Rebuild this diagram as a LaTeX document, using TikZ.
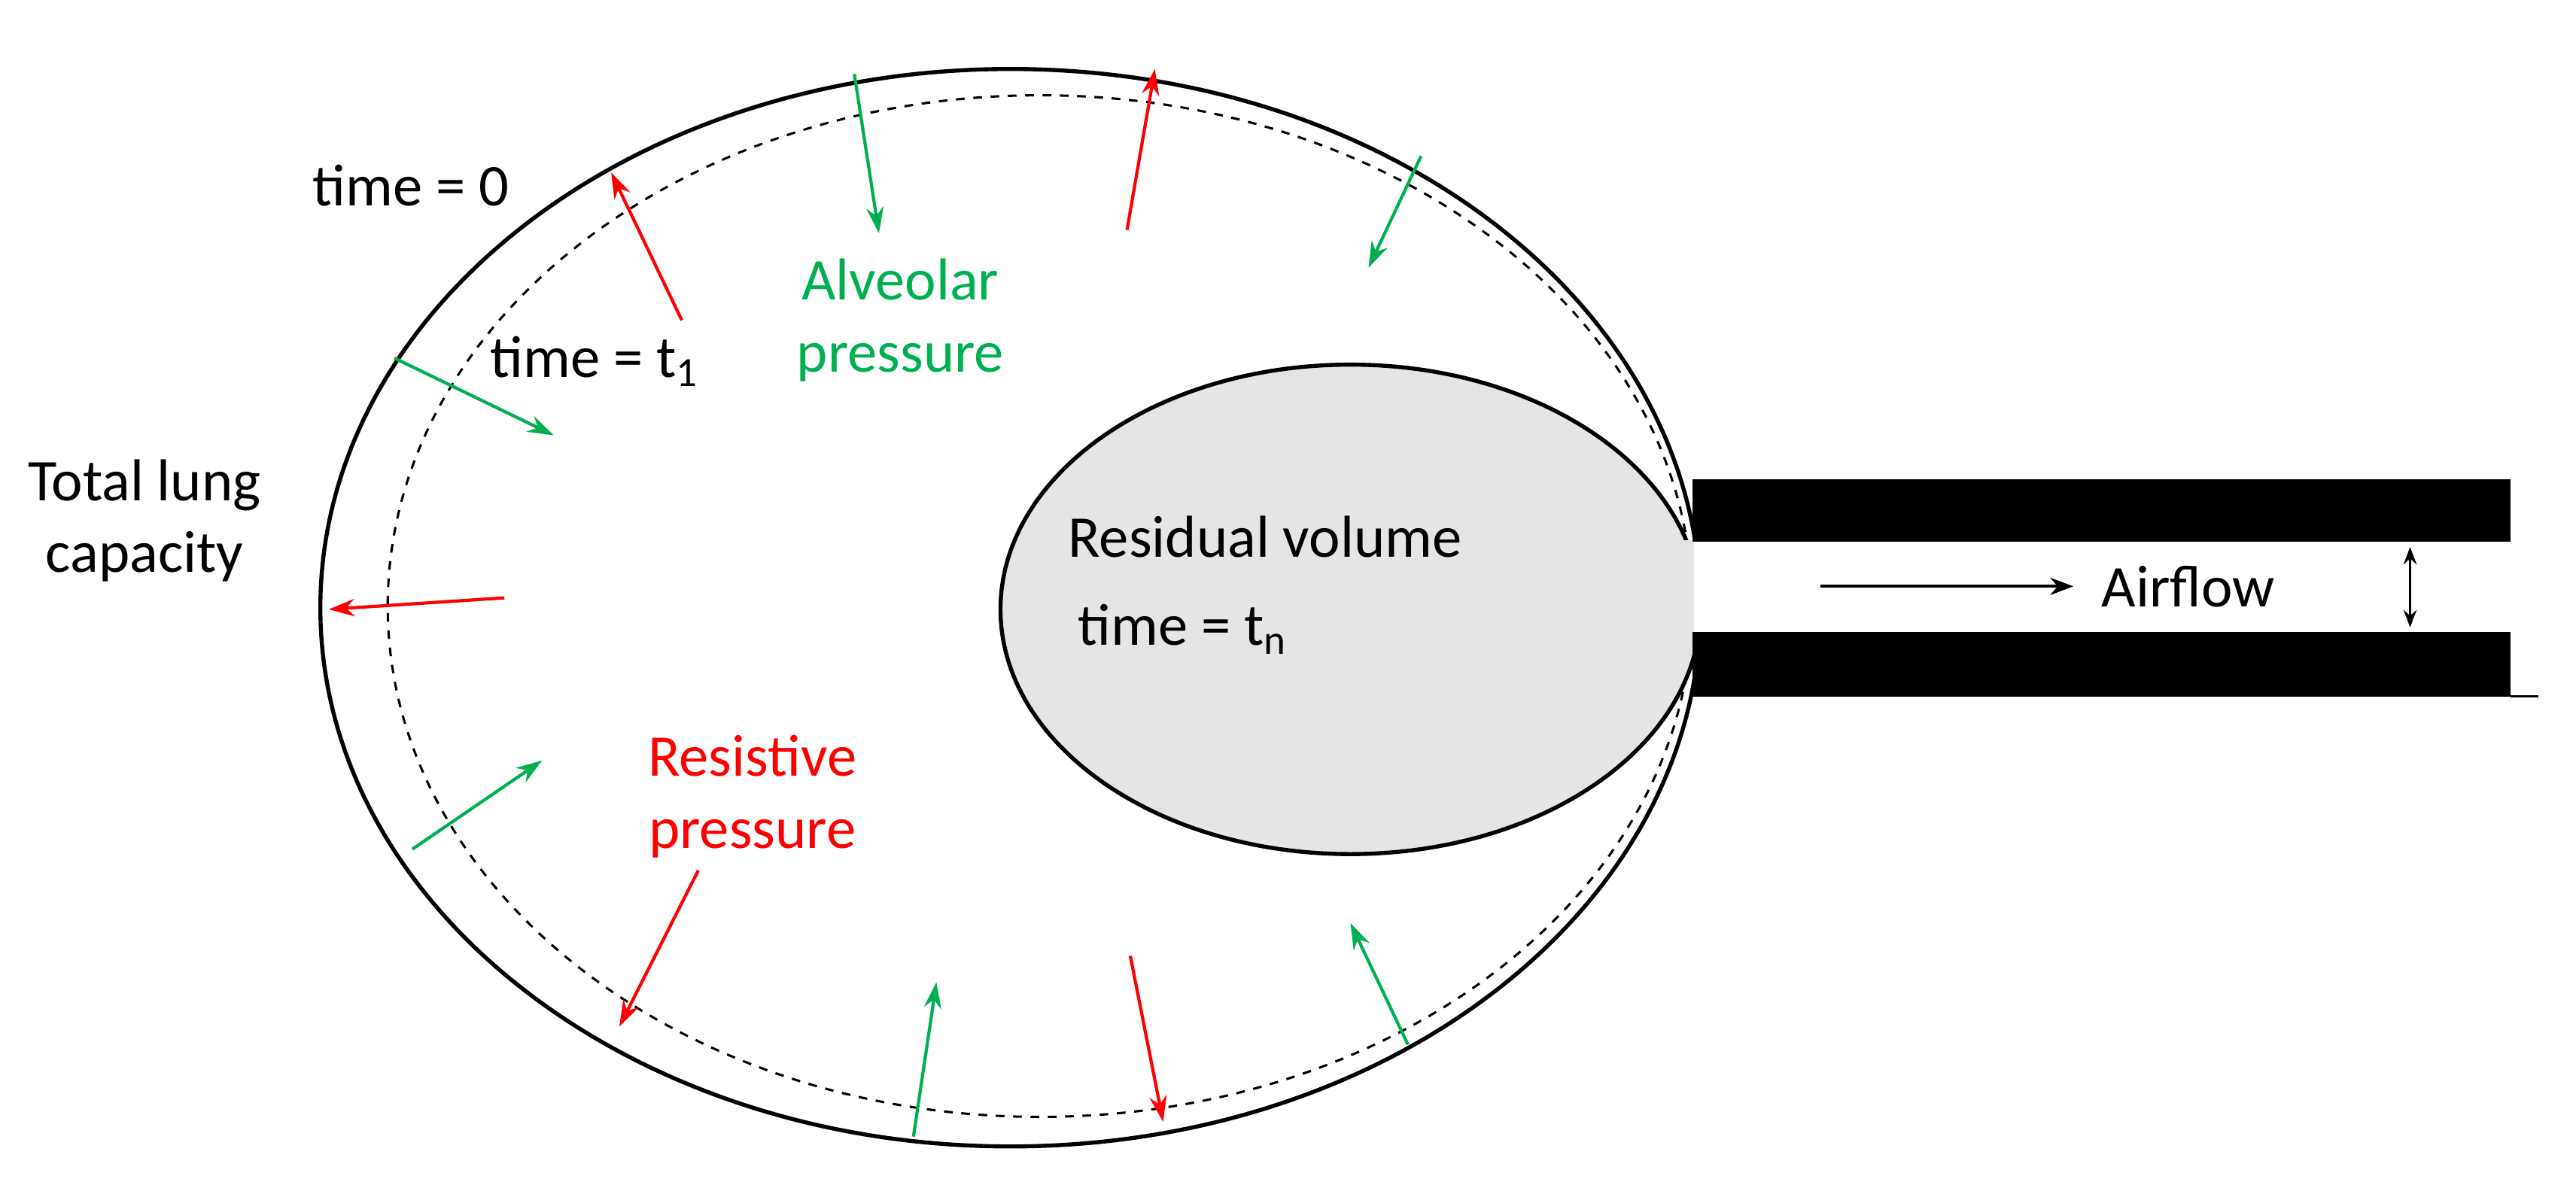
\documentclass[tikz,border=0pt]{standalone}
\usepackage{fontspec}
\setmainfont{Carlito}
\usetikzlibrary{arrows.meta}
\definecolor{gr}{RGB}{0,176,80}
\definecolor{rd}{RGB}{255,0,0}
\begin{document}
\begin{tikzpicture}[x=0.02cm,y=-0.02cm,
  lbl/.style={font=\fontsize{20.5}{25}\selectfont,align=center,inner sep=0pt},
  ar/.style={line width=1.1pt,-{Stealth[length=9pt,width=6pt]}},
  ga/.style={ar,gr}, ra/.style={ar,rd}]
\useasboundingbox (0,0) rectangle (1568,723);
\draw[line width=1.4pt] (615,370) ellipse [x radius=420,y radius=328];
\draw[dashed,line width=0.8pt] (633,369) ellipse [x radius=397,y radius=311];
\draw[line width=1.4pt,fill=black!10] (822,371) ellipse [x radius=213,y radius=149];
\fill[black!10] (1015,329) rectangle (1031,386);
\fill[white] (1031,329) rectangle (1040,386);
\fill (1030,292) rectangle (1528,330);
\fill (1030,385) rectangle (1528,424);
\draw[line width=0.6pt] (1528,424) -- (1545,424);
\coordinate (af1) at (1108,357); \coordinate (af2) at (1262,357);
\draw[line width=1pt,-{Stealth[length=8pt]}] (af1) -- (af2);
\coordinate (d1) at (1467,333); \coordinate (d2) at (1467,382);
\draw[line width=1pt,{Stealth[length=6pt]}-{Stealth[length=6pt]}] (d1) -- (d2);
\node[lbl] (air) at (1332,357) {Airflow};
\node[lbl] (t0) at (250,113) {time = 0};
\node[lbl] (t1) at (362,220) {time = t\textsubscript{1}};
\node[lbl] (tlc) at (88,317) {Total lung\\capacity};
\node[lbl,text=gr] (alv) at (548,195) {Alveolar\\pressure};
\node[lbl] (rv) at (770,327) {Residual volume};
\node[lbl] (tn) at (720,383) {time = t\textsubscript{n}};
\node[lbl,text=rd] (res) at (458,485) {Resistive\\pressure};
\coordinate (r1a) at (415,195); \coordinate (r1b) at (372,105);
\coordinate (r2a) at (686,140); \coordinate (r2b) at (703,42);
\coordinate (r3a) at (307,364); \coordinate (r3b) at (200,371);
\coordinate (r4a) at (425,530); \coordinate (r4b) at (377,625);
\coordinate (r5a) at (688,582); \coordinate (r5b) at (708,683);
\draw[ra] (r1a) -- (r1b); \draw[ra] (r2a) -- (r2b); \draw[ra] (r3a) -- (r3b);
\draw[ra] (r4a) -- (r4b); \draw[ra] (r5a) -- (r5b);
\coordinate (g1a) at (520,45); \coordinate (g1b) at (535,142);
\coordinate (g2a) at (865,95); \coordinate (g2b) at (833,163);
\coordinate (g3a) at (240,218); \coordinate (g3b) at (337,265);
\coordinate (g4a) at (251,517); \coordinate (g4b) at (330,463);
\coordinate (g5a) at (556,692); \coordinate (g5b) at (570,598);
\coordinate (g6a) at (857,636); \coordinate (g6b) at (822,562);
\draw[ga] (g1a) -- (g1b); \draw[ga] (g2a) -- (g2b); \draw[ga] (g3a) -- (g3b);
\draw[ga] (g4a) -- (g4b); \draw[ga] (g5a) -- (g5b); \draw[ga] (g6a) -- (g6b);
\end{tikzpicture}
\end{document}
